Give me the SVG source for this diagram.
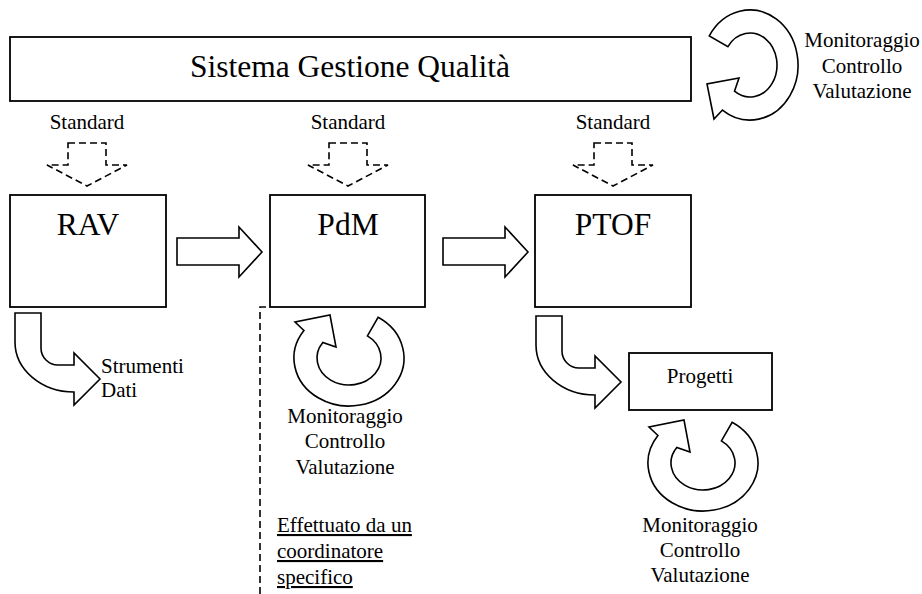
<svg xmlns="http://www.w3.org/2000/svg" width="922" height="594" viewBox="0 0 922 594" font-family="'Liberation Serif', 'Times New Roman', serif">
  <style>
    text { font-family: "Liberation Serif", "Times New Roman", serif; fill: #000; }
    .big { font-size: 31.5px; }
    .small { font-size: 21px; }
    .box { fill: #fff; stroke: #000; stroke-width: 1.8; }
    .shape { fill: #fff; stroke: #000; stroke-width: 1.6; stroke-linejoin: miter; }
    .dash { fill: none; stroke: #000; stroke-width: 1.6; stroke-dasharray: 7 4; }
  </style>
  <defs>
    <!-- circular arrow, centred on its ring -->
    <path id="ring" d="M29.1,-40.7 A55,48 0 1 1 -45.05,-27.55 L-54,-36 L-19,-43 L-13,-11 L-26.2,-15.5 A32,27 0 1 0 18.4,-22.1 Z"/>
    <!-- dashed downward arrow, tip at origin -->
    <path id="down" d="M-19,-43 L19,-43 L19,-21 L40,-21 L0,0 L-40,-21 L-19,-21 Z"/>
    <!-- bent arrow: down then right -->
    <path id="bend" d="M15,313 L41,313 L41,348 A17,17 0 0 0 58,365 L74,365 L74,353 L100,379 L74,405 L74,392 A59,50 0 0 1 15,342 Z"/>
    <!-- straight right arrow -->
    <path id="right" d="M0,0 L62,0 L62,-11 L85,14 L62,39 L62,27 L0,27 Z"/>
  </defs>

  <g id="sgq">
    <rect class="box" x="10" y="37" width="681" height="64"/>
    <text class="big" x="350" y="77" text-anchor="middle">Sistema Gestione Qualità</text>
  </g>

  <g id="sgq-cycle">
    <use href="#ring" class="shape" transform="translate(750,65) rotate(-90)"/>
    <text class="small" x="862" y="47" text-anchor="middle">Monitoraggio</text>
    <text class="small" x="862" y="73" text-anchor="middle">Controllo</text>
    <text class="small" x="862" y="98" text-anchor="middle">Valutazione</text>
  </g>

  <g id="standards">
    <text class="small" x="87" y="129" text-anchor="middle">Standard</text>
    <text class="small" x="348" y="129" text-anchor="middle">Standard</text>
    <text class="small" x="613" y="129" text-anchor="middle">Standard</text>
  </g>

  <g id="connectors">
    <use href="#down" class="dash" transform="translate(87,186)"/>
    <use href="#down" class="dash" transform="translate(348,186)"/>
    <use href="#down" class="dash" transform="translate(613,186)"/>
    <use href="#right" class="shape" transform="translate(177,238)"/>
    <use href="#right" class="shape" transform="translate(443,238)"/>
    <use href="#bend" class="shape"/>
    <use href="#bend" class="shape" transform="translate(521,3)"/>
  </g>

  <g id="rav">
    <rect class="box" x="10" y="195" width="156" height="112"/>
    <text class="big" x="88" y="235" text-anchor="middle">RAV</text>
  </g>

  <g id="pdm-area">
    <path class="dash" d="M260,594 L260,307 L270,307"/>
  </g>

  <g id="pdm">
    <rect class="box" x="270" y="195" width="155" height="112"/>
    <text class="big" x="348" y="235" text-anchor="middle">PdM</text>
  </g>

  <g id="ptof">
    <rect class="box" x="535" y="195" width="156" height="112"/>
    <text class="big" x="613" y="235" text-anchor="middle">PTOF</text>
  </g>

  <g id="strumenti">
    <text class="small" x="101" y="373">Strumenti</text>
    <text class="small" x="101" y="397">Dati</text>
  </g>

  <g id="pdm-cycle">
    <use href="#ring" class="shape" transform="translate(349,358)"/>
    <text class="small" x="345" y="423" text-anchor="middle">Monitoraggio</text>
    <text class="small" x="345" y="448" text-anchor="middle">Controllo</text>
    <text class="small" x="345" y="474" text-anchor="middle">Valutazione</text>
  </g>

  <g id="coordinatore">
    <text class="small" x="277" y="532" text-decoration="underline">Effettuato da un</text>
    <text class="small" x="277" y="558" text-decoration="underline">coordinatore</text>
    <text class="small" x="277" y="584" text-decoration="underline">specifico</text>
  </g>

  <g id="progetti">
    <rect class="box" x="629" y="353" width="143" height="57"/>
    <text class="small" x="700" y="383" text-anchor="middle">Progetti</text>
  </g>

  <g id="progetti-cycle">
    <use href="#ring" class="shape" transform="translate(703,463)"/>
    <text class="small" x="700" y="532" text-anchor="middle">Monitoraggio</text>
    <text class="small" x="700" y="557" text-anchor="middle">Controllo</text>
    <text class="small" x="700" y="582" text-anchor="middle">Valutazione</text>
  </g>
</svg>
